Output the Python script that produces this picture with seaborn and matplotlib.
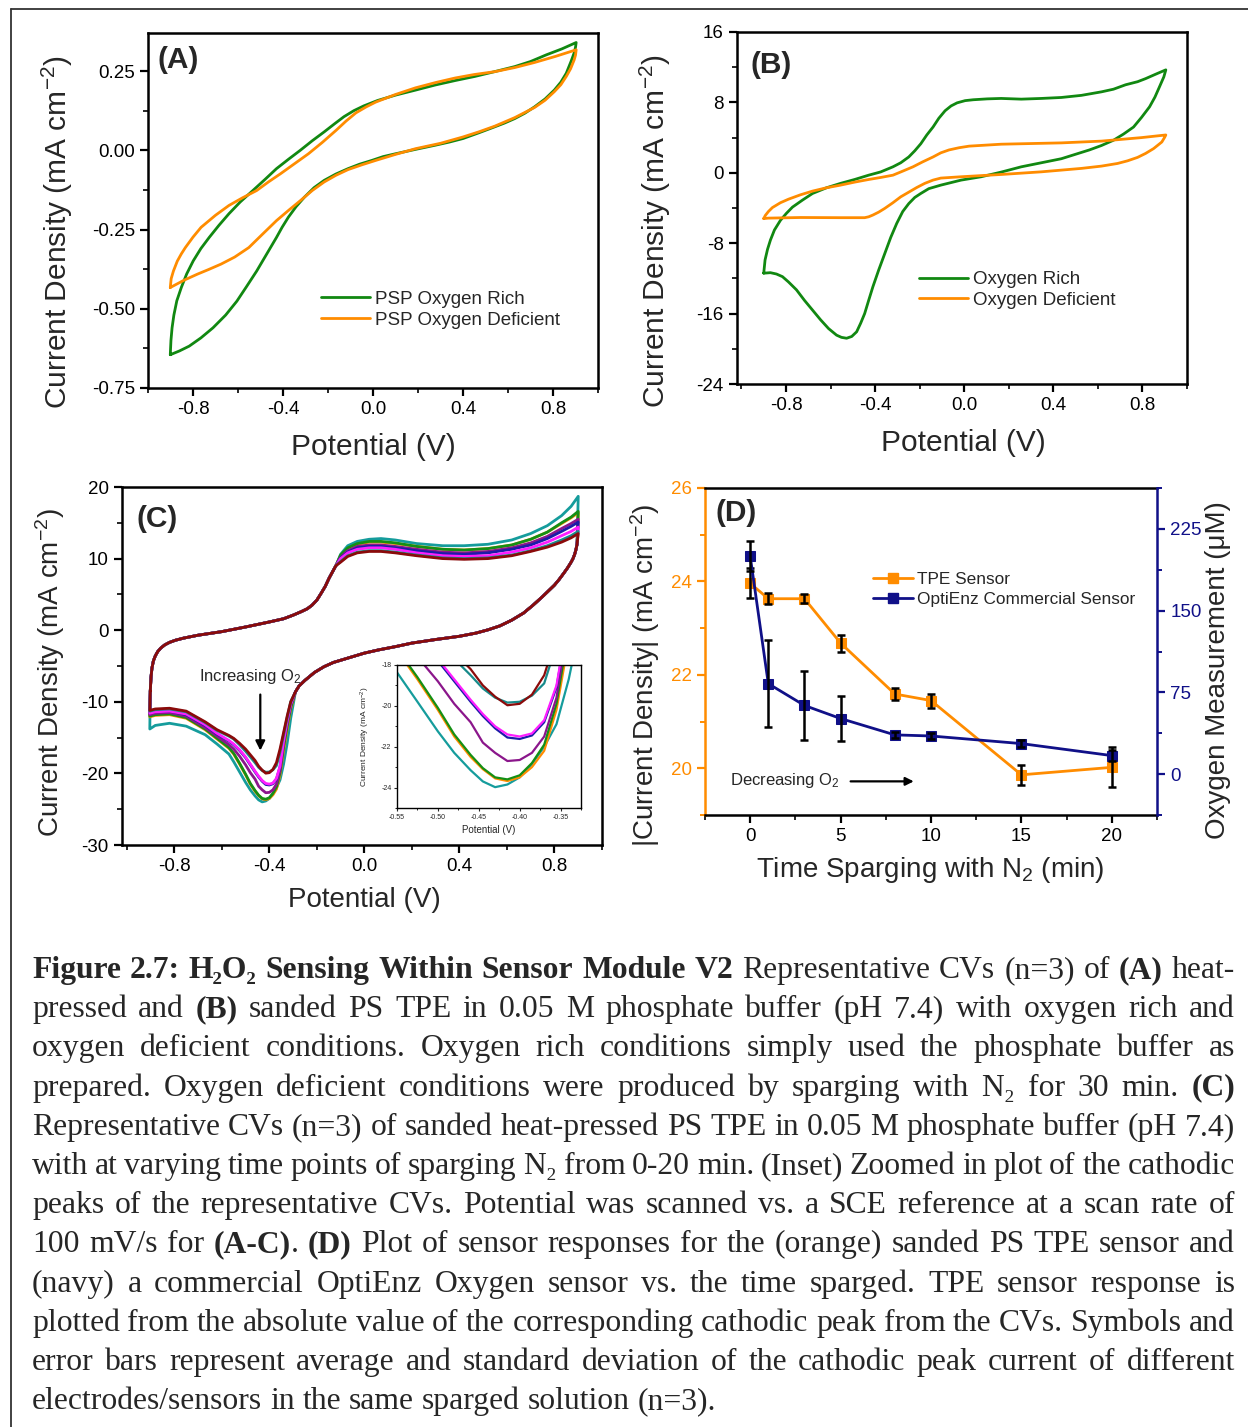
## Figure 2.7 recreation: CVs of PS TPE (A-C) and sensor response vs sparging time (D)
import numpy as np
import pandas as pd
import seaborn as sns
import matplotlib.pyplot as plt
from matplotlib.lines import Line2D
from matplotlib.ticker import MultipleLocator, FormatStrFormatter

# ---------------- data ----------------
# panel A: heat-pressed PSP (potential V, current density mA cm-2)
a_rich_v = [-0.901, -0.898, -0.893, -0.885, -0.872, -0.852, -0.828, -0.799, -0.765, -0.728, -0.685, -0.640,
            -0.590, -0.534, -0.480, -0.429, -0.375, -0.323, -0.270, -0.217, -0.170, -0.129, -0.085, -0.041,
            0.020, 0.100, 0.190, 0.277, 0.365, 0.453, 0.540, 0.630, 0.700, 0.770, 0.840, 0.903,
            0.900, 0.894, 0.880, 0.859, 0.835, 0.806, 0.765, 0.718, 0.675, 0.630, 0.585, 0.541, 0.470,
            0.400, 0.340, 0.277, 0.190, 0.100, 0.045, -0.005, -0.060, -0.111, -0.165, -0.217, -0.262,
            -0.305, -0.342, -0.376, -0.404, -0.429, -0.473, -0.517, -0.562, -0.605, -0.655, -0.711,
            -0.765, -0.817, -0.860, -0.901]
a_rich_i = [-0.645, -0.600, -0.560, -0.520, -0.475, -0.433, -0.390, -0.349, -0.310, -0.275, -0.237, -0.200,
            -0.163, -0.127, -0.092, -0.058, -0.028, 0.000, 0.030, 0.058, 0.084, 0.106, 0.125, 0.140,
            0.157, 0.174, 0.190, 0.206, 0.220, 0.233, 0.248, 0.264, 0.280, 0.301, 0.320, 0.340,
            0.325, 0.307, 0.280, 0.243, 0.215, 0.190, 0.162, 0.137, 0.117, 0.100, 0.086, 0.074, 0.055,
            0.037, 0.026, 0.016, 0.003, -0.011, -0.020, -0.032, -0.044, -0.058, -0.075, -0.095, -0.118,
            -0.148, -0.178, -0.211, -0.243, -0.275, -0.328, -0.381, -0.430, -0.476, -0.520, -0.560,
            -0.592, -0.618, -0.633, -0.645]
a_def_v = [-0.901, -0.897, -0.887, -0.870, -0.852, -0.834, -0.800, -0.764, -0.700, -0.640, -0.580, -0.517,
           -0.465, -0.411, -0.350, -0.287, -0.225, -0.164, -0.120, -0.076, -0.030, 0.012, 0.100, 0.189,
           0.280, 0.365, 0.450, 0.541, 0.630, 0.718, 0.810, 0.903,
           0.900, 0.894, 0.878, 0.859, 0.835, 0.806, 0.765, 0.718, 0.630, 0.541, 0.470, 0.400, 0.300,
           0.189, 0.100, 0.012, -0.050, -0.111, -0.165, -0.217, -0.270, -0.323, -0.376, -0.429, -0.490,
           -0.552, -0.615, -0.675, -0.730, -0.781, -0.840, -0.901]
a_def_i = [-0.433, -0.405, -0.381, -0.350, -0.327, -0.307, -0.274, -0.243, -0.205, -0.174, -0.150, -0.127,
           -0.100, -0.074, -0.043, -0.011, 0.025, 0.063, 0.092, 0.118, 0.137, 0.152, 0.176, 0.197,
           0.214, 0.228, 0.239, 0.248, 0.261, 0.277, 0.296, 0.317,
           0.300, 0.285, 0.257, 0.233, 0.207, 0.185, 0.158, 0.135, 0.103, 0.076, 0.058, 0.042, 0.022,
           0.005, -0.013, -0.032, -0.046, -0.061, -0.079, -0.100, -0.127, -0.159, -0.190, -0.222, -0.264,
           -0.307, -0.337, -0.359, -0.376, -0.391, -0.410, -0.433]

# panel B: sanded PS TPE
b_rich_v = [-0.900, -0.894, -0.883, -0.870, -0.852, -0.825, -0.798, -0.771, -0.726, -0.681, -0.618, -0.555,
            -0.492, -0.429, -0.375, -0.320, -0.285, -0.249, -0.222, -0.195, -0.168, -0.140, -0.114, -0.086,
            -0.059, -0.032, 0.004, 0.040, 0.103, 0.166, 0.256, 0.346, 0.436, 0.526, 0.616, 0.670, 0.724,
            0.778, 0.814, 0.859, 0.905,
            0.896, 0.877, 0.856, 0.832, 0.796, 0.760, 0.715, 0.670, 0.616, 0.562, 0.436, 0.346, 0.256,
            0.166, 0.076, -0.014, -0.105, -0.159, -0.195, -0.222, -0.249, -0.276, -0.303, -0.330, -0.357,
            -0.384, -0.410, -0.429, -0.447, -0.465, -0.483, -0.505, -0.528, -0.551, -0.573, -0.609, -0.645,
            -0.681, -0.717, -0.753, -0.789, -0.816, -0.843, -0.870, -0.897, -0.900]
b_rich_i = [-11.4, -9.9, -8.7, -7.65, -6.5, -5.4, -4.6, -3.9, -3.1, -2.35, -1.7, -1.2,
            -0.76, -0.27, 0.1, 0.68, 1.14, 1.8, 2.5, 3.3, 4.3, 5.2, 6.2, 7.05,
            7.6, 7.95, 8.2, 8.3, 8.4, 8.45, 8.37, 8.45, 8.56, 8.8, 9.2, 9.5, 10.0,
            10.35, 10.7, 11.2, 11.7,
            10.9, 9.8, 8.6, 7.5, 6.3, 5.2, 4.4, 3.7, 3.1, 2.6, 1.6, 1.14, 0.68,
            0.08, -0.45, -0.83, -1.4, -1.8, -2.35, -2.8, -3.5, -4.4, -5.75, -7.35, -9.2,
            -11.05, -12.95, -14.5, -16.0, -17.1, -18.07, -18.6, -18.8, -18.7, -18.45, -17.7, -16.7,
            -15.6, -14.5, -13.3, -12.4, -11.8, -11.5, -11.35, -11.4, -11.4]
b_def_v = [-0.900, -0.893, -0.879, -0.861, -0.825, -0.789, -0.735, -0.681, -0.618, -0.555, -0.492, -0.429,
           -0.375, -0.320, -0.276, -0.230, -0.186, -0.140, -0.105, -0.068, -0.023, 0.022, 0.166, 0.436,
           0.616, 0.796, 0.905,
           0.900, 0.887, 0.850, 0.814, 0.778, 0.733, 0.688, 0.616, 0.526, 0.346, 0.166, -0.014, -0.105,
           -0.140, -0.177, -0.213, -0.249, -0.285, -0.320, -0.357, -0.384, -0.410, -0.429, -0.447, -0.555,
           -0.735, -0.879, -0.900]
b_def_i = [-5.2, -4.85, -4.4, -3.95, -3.4, -3.0, -2.5, -2.08, -1.7, -1.4, -1.06, -0.76,
           -0.53, -0.27, 0.19, 0.68, 1.25, 1.8, 2.27, 2.6, 2.85, 3.03, 3.25, 3.4,
           3.6, 4.0, 4.3,
           4.05, 3.5, 2.75, 2.2, 1.75, 1.36, 1.06, 0.76, 0.5, 0.11, -0.19, -0.45, -0.6,
           -0.83, -1.2, -1.67, -2.2, -2.73, -3.4, -4.05, -4.47, -4.8, -5.0, -5.1, -5.1,
           -5.08, -5.15, -5.2]

# panel C: CVs at each sparging time (min)
c_times = [0, 1, 3, 5, 8, 10, 15, 20]
c_colors = ["#159c9c", "#ff8c00", "#148f14", "#8b168b", "#1c1ca8", "#ff1eff", "#178a8a", "#8b0a0a"]
# shared forward sweep, left part
c_fwd_v = [-0.901, -0.898, -0.894, -0.888, -0.880, -0.870, -0.857, -0.840, -0.820, -0.795, -0.760,
           -0.700, -0.600, -0.500, -0.400, -0.340, -0.300, -0.265, -0.240, -0.220, -0.200, -0.183,
           -0.165, -0.148, -0.130, -0.120]
c_fwd_i = [-8.5, -6.6, -5.3, -4.3, -3.6, -3.0, -2.5, -2.05, -1.7, -1.4, -1.1,
           -0.7, -0.2, 0.45, 1.15, 1.6, 2.1, 2.6, 3.0, 3.5, 4.2, 5.1,
           6.1, 7.3, 8.4, 9.0]
# forward sweep, anodic plateau (one list per time)
c_top_v = [-0.10, -0.07, -0.03, 0.02, 0.07, 0.13, 0.22, 0.33, 0.42, 0.52, 0.62, 0.70, 0.77, 0.83, 0.87, 0.90]
c_top_i = [
    [10.6, 11.8, 12.4, 12.7, 12.8, 12.6, 12.1, 11.8, 11.8, 12.0, 12.6, 13.5, 14.6, 16.0, 17.3, 18.7],
    [10.4, 11.4, 12.0, 12.3, 12.3, 12.1, 11.7, 11.3, 11.2, 11.4, 11.9, 12.7, 13.7, 14.9, 15.7, 16.4],
    [10.5, 11.5, 12.1, 12.4, 12.4, 12.2, 11.7, 11.3, 11.2, 11.4, 11.9, 12.7, 13.7, 15.0, 15.8, 16.6],
    [10.2, 11.1, 11.7, 11.9, 11.9, 11.7, 11.3, 10.9, 10.8, 11.0, 11.5, 12.2, 13.1, 14.2, 14.9, 15.5],
    [10.1, 10.9, 11.5, 11.7, 11.7, 11.5, 11.1, 10.7, 10.6, 10.8, 11.3, 11.9, 12.8, 13.8, 14.5, 15.1],
    [10.0, 10.8, 11.3, 11.5, 11.5, 11.3, 10.8, 10.4, 10.3, 10.4, 10.9, 11.5, 12.3, 13.2, 13.8, 14.4],
    [9.6, 10.4, 10.9, 11.1, 11.1, 10.9, 10.5, 10.1, 10.0, 10.1, 10.5, 11.1, 11.8, 12.6, 13.2, 13.8],
    [9.5, 10.3, 10.8, 11.0, 11.0, 10.8, 10.4, 10.0, 9.9, 10.0, 10.4, 11.0, 11.6, 12.3, 12.9, 13.5],
]
# shared reverse sweep, right part
c_rev_v = [0.895, 0.890, 0.885, 0.878, 0.870, 0.855, 0.840, 0.820, 0.800, 0.775, 0.750, 0.710, 0.670,
           0.620, 0.570, 0.520, 0.470, 0.400, 0.300, 0.200, 0.130, 0.060, 0.000, -0.080, -0.130, -0.170,
           -0.210, -0.250, -0.275, -0.290]
c_rev_i = [12.0, 11.2, 10.6, 10.0, 9.5, 8.7, 8.0, 7.1, 6.3, 5.5, 4.7, 3.5, 2.4,
           1.4, 0.6, 0.05, -0.4, -0.85, -1.3, -1.8, -2.3, -2.75, -3.2, -4.0, -4.5, -5.1,
           -5.9, -7.0, -7.8, -8.6]
# reverse sweep, cathodic peak (one list per time)
c_peak_v = [-0.310, -0.325, -0.340, -0.355, -0.370, -0.385, -0.400, -0.415, -0.430, -0.445, -0.460,
            -0.480, -0.500, -0.525, -0.550]
c_peak_i = [
    [-12.3, -15.8, -18.7, -20.9, -22.0, -22.85, -23.5, -23.85, -23.98, -23.7, -23.15, -22.3, -21.25, -19.8, -18.36],
    [-11.0, -13.8, -16.8, -20.2, -22.2, -23.0, -23.5, -23.68, -23.55, -23.1, -22.5, -21.5, -20.2, -18.7, -17.3],
    [-10.8, -13.4, -16.3, -19.9, -21.9, -22.8, -23.4, -23.6, -23.5, -23.05, -22.4, -21.4, -20.1, -18.6, -17.2],
    [-10.5, -13.0, -15.8, -19.6, -21.5, -22.3, -22.65, -22.7, -22.3, -21.8, -20.8, -19.9, -18.8, -17.6, -16.6],
    [-10.3, -12.7, -15.5, -19.1, -20.8, -21.45, -21.62, -21.55, -21.1, -20.5, -19.8, -18.8, -17.8, -16.8, -16.0],
    [-10.3, -12.7, -15.5, -19.0, -20.7, -21.35, -21.5, -21.4, -21.0, -20.4, -19.7, -18.7, -17.7, -16.7, -15.9],
    [-10.0, -12.2, -14.6, -17.0, -18.9, -19.5, -19.8, -19.84, -19.6, -19.15, -18.5, -17.7, -16.9, -16.0, -15.2],
    [-10.0, -12.0, -14.3, -16.6, -18.5, -19.45, -19.9, -19.97, -19.55, -19.0, -18.2, -17.4, -16.6, -15.8, -15.1],
]
# reverse sweep, left end (one list per time)
c_low_v = [-0.570, -0.620, -0.670, -0.750, -0.820, -0.880, -0.903]
c_low_i = [
    [-17.3, -15.9, -14.6, -13.4, -13.0, -13.3, -13.8],
    [-16.5, -15.2, -13.9, -12.3, -11.8, -11.9, -12.1],
    [-16.4, -15.1, -13.8, -12.2, -11.7, -11.8, -12.0],
    [-16.0, -14.8, -13.6, -12.0, -11.5, -11.6, -11.8],
    [-15.5, -14.5, -13.3, -11.8, -11.3, -11.4, -11.6],
    [-15.4, -14.4, -13.2, -11.7, -11.3, -11.4, -11.6],
    [-14.8, -14.0, -12.9, -11.4, -11.0, -11.1, -11.3],
    [-14.7, -13.9, -12.8, -11.3, -10.9, -11.0, -11.2],
]

# panel D: sensor responses vs sparging time
t_min = [0, 1, 3, 5, 8, 10, 15, 20]
tpe_mean = [23.96, 23.63, 23.63, 22.68, 21.59, 21.45, 19.86, 20.02]
tpe_sd = [0.32, 0.12, 0.10, 0.18, 0.12, 0.15, 0.22, 0.43]
opti_mean = [200, 83, 63, 51, 36, 35, 28, 17]
opti_sd = [14, 40, 32, 21, 3, 3, 3, 5]

caption_lines = [
    "*Figure 2.7: H\u2082O\u2082 Sensing Within Sensor Module V2* Representative CVs (n=3) of *(A)* heat-",
    "pressed and *(B)* sanded PS TPE in 0.05 M phosphate buffer (pH 7.4) with oxygen rich and",
    "oxygen deficient conditions. Oxygen rich conditions simply used the phosphate buffer as",
    "prepared. Oxygen deficient conditions were produced by sparging with N\u2082 for 30 min. *(C)*",
    "Representative CVs (n=3) of sanded heat-pressed PS TPE in 0.05 M phosphate buffer (pH 7.4)",
    "with at varying time points of sparging N\u2082 from 0-20 min. (Inset) Zoomed in plot of the cathodic",
    "peaks of the representative CVs. Potential was scanned vs. a SCE reference at a scan rate of",
    "100 mV/s for *(A-C)*. *(D)* Plot of sensor responses for the (orange) sanded PS TPE sensor and",
    "(navy) a commercial OptiEnz Oxygen sensor vs. the time sparged. TPE sensor response is",
    "plotted from the absolute value of the corresponding cathodic peak from the CVs. Symbols and",
    "error bars represent average and standard deviation of the cathodic peak current of different",
    "electrodes/sensors in the same sparged solution (n=3).",
]

# ---------------- style ----------------
sns.set_style("ticks")
plt.rcParams['font.family'] = ['Liberation Sans', 'DejaVu Sans']
plt.rcParams['mathtext.fontset'] = 'custom'
plt.rcParams['mathtext.rm'] = 'Liberation Sans'
plt.rcParams['mathtext.it'] = 'Liberation Sans:italic'
plt.rcParams['mathtext.bf'] = 'Liberation Sans:bold'
plt.rcParams['axes.unicode_minus'] = False

GREEN = "#118811"
ORANGE = "#ff8c00"
NAVY = "#101088"
W, H = 1248, 1427
LAB = 21.5
LAB_CD = 20.0
TICK = 13.5
PANEL = 21.5

fig = plt.figure(figsize=(W / 100, H / 100), dpi=100)
fig.patch.set_facecolor('white')


def px_axes(l, t, r, b):
    return fig.add_axes([l / W, 1 - b / H, (r - l) / W, (b - t) / H])


def style(ax, xmaj, ymaj, yfmt, xfmt='%.1f'):
    for s in ax.spines.values():
        s.set_linewidth(1.8)
        s.set_color('black')
    ax.xaxis.set_major_locator(MultipleLocator(xmaj))
    ax.xaxis.set_minor_locator(MultipleLocator(xmaj / 2))
    ax.yaxis.set_major_locator(MultipleLocator(ymaj))
    ax.yaxis.set_minor_locator(MultipleLocator(ymaj / 2))
    ax.xaxis.set_major_formatter(FormatStrFormatter(xfmt))
    ax.yaxis.set_major_formatter(FormatStrFormatter(yfmt))
    ax.tick_params(which='major', direction='out', length=6, width=1.6, labelsize=TICK,
                   top=False, right=False, color='black', labelcolor='black')
    ax.tick_params(which='minor', direction='out', length=3.5, width=1.4, top=False, right=False)
    ax.set_facecolor('white')


def cv_plot(ax, curves, palette, lw=2.0):
    frames = []
    for name, v, i in curves:
        frames.append(pd.DataFrame({'V': v, 'I': i, 'curve': name}))
    df = pd.concat(frames, ignore_index=True)
    sns.lineplot(data=df, x='V', y='I', hue='curve', palette=palette, sort=False,
                 estimator=None, lw=lw, ax=ax, legend=False, solid_joinstyle='round')


def set_labels(ax, xl, yl, xpos, ypos, size):
    ax.set_xlabel(xl, fontsize=size, va='center')
    ax.set_ylabel(yl, fontsize=size, va='center')
    ax.xaxis.set_label_coords(*xpos)
    ax.yaxis.set_label_coords(*ypos)


YLAB = 'Current Density (mA cm$^{-2}$)'

# ---------------- panel A ----------------
axa = px_axes(148, 33, 598, 388)
cv_plot(axa, [('rich', a_rich_v, a_rich_i), ('def', a_def_v, a_def_i)],
        {'rich': GREEN, 'def': ORANGE})
axa.set_xlim(-1.0, 1.0)
axa.set_ylim(-0.75, 0.37)
style(axa, 0.4, 0.25, '%.2f')
set_labels(axa, 'Potential (V)', YLAB, (0.5, -0.166), (-0.202, 0.44), LAB)
axa.text(0.022, 0.924, '(A)', transform=axa.transAxes, fontsize=PANEL, fontweight='bold', va='center')
axa.legend(handles=[Line2D([], [], color=GREEN, lw=2), Line2D([], [], color=ORANGE, lw=2)],
           labels=['PSP Oxygen Rich', 'PSP Oxygen Deficient'], loc='center left',
           bbox_to_anchor=(0.385, 0.22), frameon=False, fontsize=13.5, handlelength=2.6,
           handletextpad=0.25, labelspacing=0.2, borderpad=0, borderaxespad=0)

# ---------------- panel B ----------------
axb = px_axes(737, 32, 1187, 384)
cv_plot(axb, [('rich', b_rich_v, b_rich_i), ('def', b_def_v, b_def_i)],
        {'rich': GREEN, 'def': ORANGE})
axb.set_xlim(-1.02, 1.0)
axb.set_ylim(-24, 16)
style(axb, 0.4, 8, '%d')
set_labels(axb, 'Potential (V)', YLAB, (0.504, -0.168), (-0.182, 0.435), LAB)
axb.text(0.031, 0.906, '(B)', transform=axb.transAxes, fontsize=PANEL, fontweight='bold', va='center')
axb.legend(handles=[Line2D([], [], color=GREEN, lw=2), Line2D([], [], color=ORANGE, lw=2)],
           labels=['Oxygen Rich', 'Oxygen Deficient'], loc='center left',
           bbox_to_anchor=(0.405, 0.267), frameon=False, fontsize=13.5, handlelength=2.6,
           handletextpad=0.25, labelspacing=0.2, borderpad=0, borderaxespad=0)

# ---------------- panel C ----------------
c_curves = []
for k, t in enumerate(c_times):
    v = c_fwd_v + c_top_v + c_rev_v + c_peak_v + c_low_v + c_fwd_v[:1]
    i = c_fwd_i + c_top_i[k] + c_rev_i + c_peak_i[k] + c_low_i[k] + c_fwd_i[:1]
    c_curves.append((str(t) + ' min', v, i))
c_palette = {str(t) + ' min': col for t, col in zip(c_times, c_colors)}

axc = px_axes(122, 487, 602, 845)
cv_plot(axc, c_curves, c_palette, lw=2.0)
axc.set_xlim(-1.02, 1.0)
axc.set_ylim(-30, 20)
style(axc, 0.4, 10, '%d')
set_labels(axc, 'Potential (V)', YLAB, (0.504, -0.154), (-0.15, 0.483), LAB_CD)
axc.text(0.031, 0.911, '(C)', transform=axc.transAxes, fontsize=PANEL, fontweight='bold', va='center')
axc.annotate('', xy=(-0.438, -17.2), xytext=(-0.438, -8.6),
             arrowprops=dict(arrowstyle='-|>', color='black', lw=1.6, mutation_scale=14))
axc.text(-0.48, -6.4, 'Increasing O$_2$', fontsize=12, ha='center', va='center')

# inset
axi = px_axes(397, 665, 581, 808)
cv_plot(axi, c_curves, c_palette, lw=1.6)
axi.set_xlim(-0.55, -0.325)
axi.set_ylim(-25, -18)
for s in axi.spines.values():
    s.set_linewidth(1.0)
    s.set_color('black')
axi.xaxis.set_major_locator(MultipleLocator(0.05))
axi.xaxis.set_minor_locator(MultipleLocator(0.025))
axi.yaxis.set_major_locator(MultipleLocator(2))
axi.yaxis.set_minor_locator(MultipleLocator(1))
axi.xaxis.set_major_formatter(FormatStrFormatter('%.2f'))
axi.yaxis.set_major_formatter(FormatStrFormatter('%d'))
axi.tick_params(which='major', direction='out', length=2.5, width=0.8, labelsize=5, pad=1.5,
                top=False, right=False)
axi.tick_params(which='minor', direction='out', length=1.5, width=0.7, top=False, right=False)
axi.set_xlabel('Potential (V)', fontsize=7, va='center')
axi.set_ylabel('Current Density (mA cm$^{-2}$)', fontsize=6, va='center')
axi.xaxis.set_label_coords(0.5, -0.154)
axi.yaxis.set_label_coords(-0.174, 0.5)
axi.set_facecolor('white')

# ---------------- panel D ----------------
axd = px_axes(705, 488, 1157, 815)
df_d = pd.DataFrame({'t': t_min, 'tpe': tpe_mean, 'opti': opti_mean})
sns.lineplot(data=df_d, x='t', y='tpe', ax=axd, color=ORANGE, marker='s', markersize=7,
             markeredgecolor=ORANGE, lw=2)
axd.errorbar(t_min, tpe_mean, yerr=tpe_sd, fmt='none', ecolor='black', elinewidth=1.8,
             capsize=3, capthick=1.8, zorder=5)
axd.set_xlim(-2.5, 22.5)
axd.set_ylim(19, 26)
style(axd, 5, 2, '%d', xfmt='%d')
axd.tick_params(axis='y', which='both', colors=ORANGE, labelcolor=ORANGE)
axd.spines['left'].set_color(ORANGE)
axd.spines['right'].set_visible(False)

ax2 = axd.twinx()
sns.lineplot(data=df_d, x='t', y='opti', ax=ax2, color=NAVY, marker='s', markersize=7,
             markeredgecolor=NAVY, lw=2)
ax2.errorbar(t_min, opti_mean, yerr=opti_sd, fmt='none', ecolor='black', elinewidth=1.8,
             capsize=3, capthick=1.8, zorder=5)
ax2.set_ylim(-37.5, 262.5)
ax2.yaxis.set_major_locator(MultipleLocator(75))
ax2.yaxis.set_minor_locator(MultipleLocator(37.5))
for side in ['left', 'top', 'bottom']:
    ax2.spines[side].set_visible(False)
ax2.spines['right'].set_color(NAVY)
ax2.spines['right'].set_linewidth(1.8)
ax2.tick_params(axis='y', which='major', direction='out', length=6, width=1.6, labelsize=TICK,
                colors=NAVY, labelcolor=NAVY)
ax2.tick_params(axis='y', which='minor', direction='out', length=3.5, width=1.4, colors=NAVY)

axd.set_xlabel('Time Sparging with N$_2$ (min)', fontsize=LAB_CD, va='center')
axd.xaxis.set_label_coords(0.498, -0.168)
axd.set_ylabel('|Current Density| (mA cm$^{-2}$)', fontsize=LAB_CD, va='center')
axd.yaxis.set_label_coords(-0.133, 0.428)
ax2.set_ylabel('Oxygen Measurement (\u03bcM)', fontsize=LAB_CD, va='center', rotation=90)
ax2.yaxis.set_label_coords(1.135, 0.443)
axd.text(0.024, 0.924, '(D)', transform=axd.transAxes, fontsize=PANEL, fontweight='bold', va='center')
ax2.legend(handles=[Line2D([], [], color=ORANGE, lw=2, marker='s', markersize=7),
                    Line2D([], [], color=NAVY, lw=2, marker='s', markersize=7)],
           labels=['TPE Sensor', 'OptiEnz Commercial Sensor'], loc='center left',
           bbox_to_anchor=(0.372, 0.69), frameon=False, fontsize=12.4, handlelength=2.3,
           handletextpad=0.25, labelspacing=0.25, borderpad=0, borderaxespad=0)
axd.text(-1.1, 19.74, 'Decreasing O$_2$', fontsize=12, ha='left', va='center')
axd.annotate('', xy=(9.2, 19.72), xytext=(5.4, 19.72),
             arrowprops=dict(arrowstyle='-|>', color='black', lw=1.6, mutation_scale=12))

# ---------------- frame around figure ----------------
fig.add_artist(Line2D([11 / W, 11 / W], [0, 1 - 9 / H], transform=fig.transFigure,
                      color='#333333', lw=1.3))
fig.add_artist(Line2D([11 / W, 1], [1 - 9 / H, 1 - 9 / H], transform=fig.transFigure,
                      color='#333333', lw=1.3))

# ---------------- caption (justified) ----------------
CAP_FAM = ['Liberation Serif', 'DejaVu Serif']
renderer = fig.canvas.get_renderer()


def run_width(s, bold, size):
    t = fig.text(0, 0, s, fontsize=size, family=CAP_FAM, fontweight='bold' if bold else 'normal')
    w = t.get_window_extent(renderer).width
    t.remove()
    return w


x_left, x_right = 32, 1235

# line 5 of the caption is set with plain word spacing in the reference: size the font from it
probe = caption_lines[4]
probe_w = run_width(probe, False, 20.0)
CAP_SIZE = 20.0 * (x_right - x_left) / probe_w
space_w = run_width('a a', False, CAP_SIZE) - run_width('aa', False, CAP_SIZE)

bold = False
for n, line in enumerate(caption_lines):
    words = []
    for w in line.split(' '):
        runs = []
        for j, seg in enumerate(w.split('*')):
            if j > 0:
                bold = not bold
            if seg:
                runs.append((seg, bold, run_width(seg, bold, CAP_SIZE)))
        words.append(runs)
    widths = [sum(r[2] for r in wd) for wd in words]
    if n < len(caption_lines) - 1:
        gap = max((x_right - x_left - sum(widths)) / (len(words) - 1), 0.35 * space_w)
    else:
        gap = space_w
    x = x_left
    y = 1 - (978 + 39.2 * n) / H
    for wd, ww in zip(words, widths):
        xx = x
        for seg, b, rw in wd:
            fig.text(xx / W, y, seg, fontsize=CAP_SIZE, family=CAP_FAM,
                     fontweight='bold' if b else 'normal', va='baseline', ha='left')
            xx += rw
        x += ww + gap

fig.savefig('out.png', dpi=100, facecolor='white')
